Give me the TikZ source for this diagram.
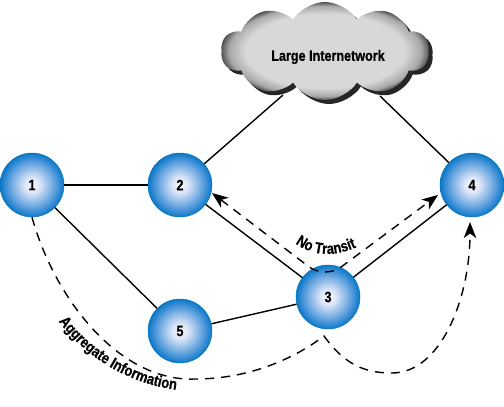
\documentclass[tikz,border=0pt]{standalone}
\usepackage{fontspec}
\setmainfont{Liberation Sans}[FakeStretch=0.86]
\newfontfamily\heavy{Liberation Sans}[FakeStretch=0.84, BoldFeatures={FakeBold=0.6}]
\usetikzlibrary{shapes.symbols,arrows.meta,decorations.text}
\definecolor{ballc0}{HTML}{FAFAFF}
\definecolor{ballc1}{HTML}{DCE6F8}
\definecolor{ballc2}{HTML}{7EB1E4}
\definecolor{ballc25}{HTML}{3A8ED6}
\definecolor{ballc3}{HTML}{0A78C4}
\definecolor{cloudin}{HTML}{D8D8D8}
\definecolor{cloudmid}{HTML}{A8A8A8}
\definecolor{cloudout}{HTML}{505050}
\pgfdeclareradialshading{ballshade}{\pgfpoint{0bp}{0bp}}{color(0bp)=(ballc0); color(6bp)=(ballc1); color(15bp)=(ballc2); color(21bp)=(ballc25); color(25bp)=(ballc3); color(50bp)=(ballc3)}
\pgfdeclareradialshading{cloudshade}{\pgfpoint{0bp}{0bp}}{color(0bp)=(cloudin); color(19bp)=(cloudin); color(23bp)=(cloudmid); color(25bp)=(cloudout); color(50bp)=(cloudout)}
\tikzset{
  ball/.style={circle, minimum size=64pt, inner sep=0pt, shading=ballshade, draw=ballc3, line width=0.5pt,
    font=\heavy\bfseries\fontsize{15}{15}\selectfont},
  link/.style={line width=1.4pt, draw=black},
  dashlink/.style={line width=1.4pt, draw=black, dash pattern=on 9pt off 7pt},
  cloudshape/.style={cloud, cloud puffs=10, cloud puff arc=115, aspect=2.1,
    minimum width=208pt, minimum height=98pt, inner sep=0pt},
  curvtext/.style={decorate, decoration={text along path, text align={center},
    text={|\heavy\bfseries\fontsize{15.5}{15.5}\selectfont|#1}}}
}
\begin{document}
\begin{tikzpicture}[x=1pt,y=-1pt,>={Stealth[length=16pt,width=12.5pt,inset=4.5pt]}]
\useasboundingbox (0,0) rectangle (504,407);
% nodes
\node[ball] (n1) at (32,185) {1};
\node[ball] (n2) at (180,185) {2};
\node[ball] (n3) at (328,297) {3};
\node[ball] (n4) at (472,185) {4};
\node[ball] (n5) at (180,331) {5};
% coordinates
\coordinate (cl1) at (283,95);
\coordinate (cl4) at (380,96);
\coordinate (tip2) at (212,193);
\coordinate (tip4) at (438,195);
\coordinate (vbot) at (325,279);
\coordinate (bot1) at (195,379);
\coordinate (cusp) at (324,336);
\coordinate (bot2) at (392,373);
\coordinate (tip4b) at (470,222);
% solid links
\draw[link] (n1) -- (n2);
\draw[link] (n1) -- (n5);
\draw[link] (n2) -- (n3);
\draw[link] (n3) -- (n4);
\draw[link] (n5) -- (n3);
\draw[link] (n2) -- (cl1);
\draw[link] (cl4) -- (n4);
% cloud
\node[cloudshape, fill=black!85] (clshadow) at (329,55) {};
\node[cloudshape, shading=cloudshade] (cl) at (325,51) {};
\node[font=\heavy\bfseries\fontsize{15}{15}\selectfont] (cltext) at (328,57) {Large Internetwork};
% dashed arrows
\draw[dashlink, <->, rounded corners=20pt] (tip2) -- (vbot) -- (tip4);
\draw[dashlink, ->] (n1.south) .. controls (55,300) and (120,382) .. (bot1)
  .. controls (250,379) and (295,358) .. (cusp)
  .. controls (345,365) and (365,373) .. (bot2)
  .. controls (440,373) and (470,300) .. (tip4b);
% curved labels
\path[curvtext={No Transit}] (285,234) .. controls (305,256) and (332,262) .. (369,241);
\path[curvtext={Aggregate Information}] (50,308) .. controls (74,350) and (128,389) .. (192,391);
\end{tikzpicture}
\end{document}
